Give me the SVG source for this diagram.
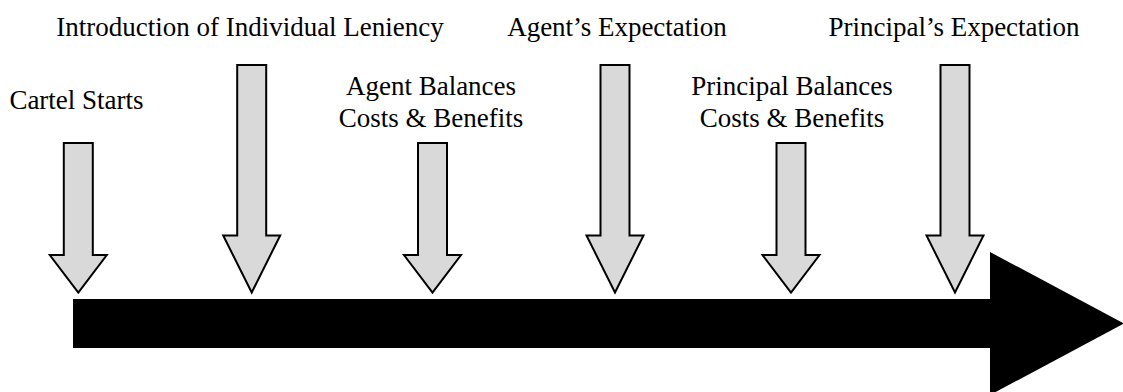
<svg xmlns="http://www.w3.org/2000/svg" xmlns:xlink="http://www.w3.org/1999/xlink" width="1123" height="392" viewBox="0 0 1123 392">
<style>
  .lbl { font-family: "Liberation Serif", "Times New Roman", serif; font-size: 27px; fill: #000; text-anchor: middle; }
  .down { fill: #d9d9d9; stroke: #000; stroke-width: 2; stroke-linejoin: miter; }
  .timeline { fill: #000; stroke: none; }
</style>
<defs>
  <polygon id="shortArrow" points="-14.5,143 14.5,143 14.5,255 28.5,255 0,292.5 -28.5,255 -14.5,255"/>
  <polygon id="tallArrow" points="-14.5,65 14.5,65 14.5,235.5 28.5,235.5 0,292.5 -28.5,235.5 -14.5,235.5"/>
</defs>
<rect width="1123" height="392" fill="#fff"/>
<g id="connectors">
  <polygon class="timeline" points="73,299 990,299 990,252 1124,323.5 990,395 990,348 73,348"/>
</g>
<g id="cartel-starts">
  <use xlink:href="#shortArrow" href="#shortArrow" class="down" transform="translate(78.3,0)"/>
  <text class="lbl" x="76.5" y="109">Cartel Starts</text>
</g>
<g id="individual-leniency">
  <use xlink:href="#tallArrow" href="#tallArrow" class="down" transform="translate(251.7,0)"/>
  <text class="lbl" x="250" y="36">Introduction of Individual Leniency</text>
</g>
<g id="agent-balances">
  <use xlink:href="#shortArrow" href="#shortArrow" class="down" transform="translate(432.5,0)"/>
  <text class="lbl" x="431" y="95">Agent Balances</text>
  <text class="lbl" x="431" y="126.5">Costs &amp; Benefits</text>
</g>
<g id="agent-expectation">
  <use xlink:href="#tallArrow" href="#tallArrow" class="down" transform="translate(615,0)"/>
  <text class="lbl" x="617" y="36">Agent’s Expectation</text>
</g>
<g id="principal-balances">
  <use xlink:href="#shortArrow" href="#shortArrow" class="down" transform="translate(791,0)"/>
  <text class="lbl" x="792" y="95">Principal Balances</text>
  <text class="lbl" x="792" y="126.5">Costs &amp; Benefits</text>
</g>
<g id="principal-expectation">
  <use xlink:href="#tallArrow" href="#tallArrow" class="down" transform="translate(955,0)"/>
  <text class="lbl" x="954" y="36">Principal’s Expectation</text>
</g>
</svg>
